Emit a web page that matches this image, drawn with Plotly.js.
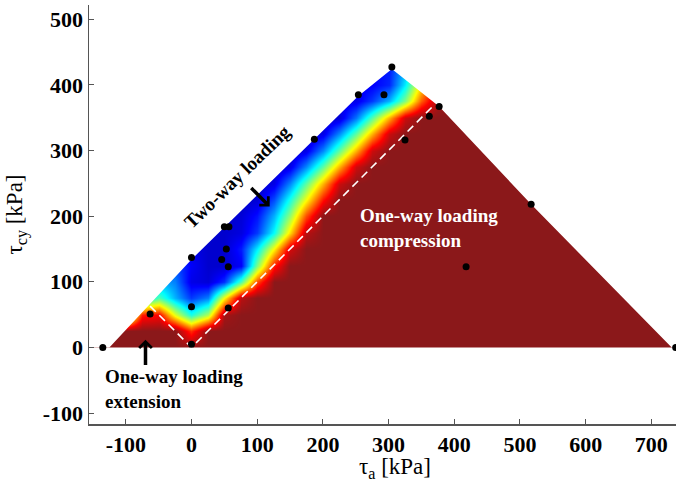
<!DOCTYPE html>
<html>
<head>
<meta charset="utf-8">
<script src="https://cdn.plot.ly/plotly-3.0.1.min.js"></script>
<style>html,body{margin:0;padding:0;background:#fff;}#chart{width:676px;height:482px;}</style>
</head>
<body>
<div id="chart"></div>
<script>
// ---- data ----
// grid of the colour field (tau_a, tau_cy in kPa) and its values (0 = two-way, 1 = one-way)
const gridX = [-150,-125,-100,-75,-50,-25,0,25,50,75,100,125,150,175,200,225,250,275,300,325,350,375,400,760];
const gridY = [0,25,50,75,100,125,150,175,200,225,250,275,300,325,350,375,400,425,450];
const fieldZ = [
 [1,1,1,1,1,1,1,1,1,1,1,1,1,1,1,1,1,1,1,1,1,1,1,1],
 [1,1,1,1,1,1,0.83,1,1,1,1,1,1,1,1,1,1,1,1,1,1,1,1,1],
 [0.4,0.4,0.4,0.85,0.88,0.6,0.4,0.55,0.97,1,1,1,1,1,1,1,1,1,1,1,1,1,1,1],
 [0.3,0.3,0.3,0.35,0.45,0.3,0.18,0.25,0.62,0.95,1,1,1,1,1,1,1,1,1,1,1,1,1,1],
 [0.3,0.3,0.3,0.3,0.3,0.25,0.1,0.08,0.17,0.45,0.8,1,1,1,1,1,1,1,1,1,1,1,1,1],
 [0.2,0.2,0.2,0.2,0.2,0.2,0.12,0.07,0.07,0.12,0.5,0.85,1,1,1,1,1,1,1,1,1,1,1,1],
 [0.1,0.1,0.1,0.1,0.1,0.1,0.1,0.07,0.07,0.15,0.36,0.63,0.92,1,1,1,1,1,1,1,1,1,1,1],
 [0.07,0.07,0.07,0.07,0.07,0.07,0.07,0.07,0.07,0.09,0.18,0.38,0.66,0.95,1,1,1,1,1,1,1,1,1,1],
 [0.07,0.07,0.07,0.07,0.07,0.07,0.07,0.07,0.07,0.08,0.14,0.3,0.52,0.8,1,1,1,1,1,1,1,1,1,1],
 [0.06,0.06,0.06,0.06,0.06,0.06,0.06,0.06,0.06,0.06,0.08,0.2,0.4,0.62,0.86,1,1,1,1,1,1,1,1,1],
 [0.06,0.06,0.06,0.06,0.06,0.06,0.06,0.06,0.06,0.06,0.06,0.1,0.26,0.47,0.7,0.93,1,1,1,1,1,1,1,1],
 [0.06,0.06,0.06,0.06,0.06,0.06,0.06,0.06,0.06,0.06,0.06,0.06,0.1,0.26,0.47,0.7,0.93,1,1,1,1,1,1,1],
 [0.06,0.06,0.06,0.06,0.06,0.06,0.06,0.06,0.06,0.06,0.06,0.06,0.06,0.1,0.26,0.47,0.7,0.93,1,1,1,1,1,1],
 [0.06,0.06,0.06,0.06,0.06,0.06,0.06,0.06,0.06,0.06,0.06,0.06,0.06,0.06,0.1,0.26,0.47,0.7,0.93,1,1,1,1,1],
 [0.06,0.06,0.06,0.06,0.06,0.06,0.06,0.06,0.06,0.06,0.06,0.06,0.06,0.06,0.06,0.08,0.24,0.46,0.7,0.93,1,1,1,1],
 [0.1,0.1,0.1,0.1,0.1,0.1,0.1,0.1,0.1,0.1,0.1,0.1,0.1,0.1,0.1,0.1,0.1,0.18,0.3,0.5,0.78,0.97,1,1],
 [0.1,0.1,0.1,0.1,0.1,0.1,0.1,0.1,0.1,0.1,0.1,0.1,0.1,0.1,0.1,0.1,0.1,0.12,0.16,0.36,0.65,0.9,1,1],
 [0.1,0.1,0.1,0.1,0.1,0.1,0.1,0.1,0.1,0.1,0.1,0.1,0.1,0.1,0.1,0.1,0.1,0.12,0.15,0.3,0.55,0.8,1,1],
 [0.15,0.15,0.15,0.15,0.15,0.15,0.15,0.15,0.15,0.15,0.15,0.15,0.15,0.15,0.15,0.15,0.15,0.15,0.15,0.3,0.5,0.75,1,1]
];
// outline of the coloured region (convex hull of the tests)
const hullX = [-125, 0, 187, 254, 305, 377, 517, 731];
const hullY = [0, 134, 317, 383, 424, 367, 218, 0];
// test points
const ptX = [-135, -63, 0, 0, 0, 46, 53, 56, 56, 50, 57, 187, 254, 293, 305, 377, 362, 325, 517, 418, 737];
const ptY = [0, 51, 137, 62, 5, 134, 150, 123, 60, 184, 184, 317, 385, 385, 427, 367, 352, 316, 218, 123, 0];
// dashed boundary |tau_cy| = |tau_a|
const dashX = [-63, 0, 366];
const dashY = [63, 0, 366];
// axis ticks
const xTicks = [-100, 0, 100, 200, 300, 400, 500, 600, 700];
const yTicks = [-100, 0, 100, 200, 300, 400, 500];

const serif = '"Liberation Serif", "Times New Roman", Times, serif';
const jet = [
  [0, 'rgb(0,0,143)'], [0.125, 'rgb(0,0,255)'], [0.375, 'rgb(0,255,255)'],
  [0.625, 'rgb(255,255,0)'], [0.875, 'rgb(255,0,0)'], [1, 'rgb(139,24,26)']
];

const xr = [-156, 737.5], yr = [-116.6, 521.6];
const farL = -400, farR = 1000, farT = 900, farB = -400;

const traces = [
  {type: 'heatmap', x: gridX, y: gridY, z: fieldZ, zmin: 0, zmax: 1,
   colorscale: jet, zsmooth: 'best', showscale: false, hoverinfo: 'skip'},
  // white outside the hull
  {type: 'scatter', mode: 'lines', fill: 'toself', fillcolor: 'white',
   line: {width: 0, color: 'white'}, hoverinfo: 'skip',
   x: [farL].concat(hullX, [farR, farR, farL]),
   y: [0].concat(hullY, [0, farT, farT])},
  {type: 'scatter', mode: 'lines', fill: 'toself', fillcolor: 'white',
   line: {width: 0, color: 'white'}, hoverinfo: 'skip',
   x: [farL, farR, farR, farL], y: [0, 0, farB, farB]},
  {type: 'scatter', mode: 'lines', x: dashX, y: dashY,
   line: {color: 'white', width: 1.6, dash: '8px,5px'}, hoverinfo: 'skip'},
  {type: 'scatter', mode: 'markers', x: ptX, y: ptY,
   marker: {color: 'black', size: 7}, cliponaxis: false}
];

const axisCommon = {
  showline: true, linecolor: '#555', linewidth: 1.5, mirror: false,
  ticks: 'inside', ticklen: 5, tickcolor: '#555', tickwidth: 1,
  showgrid: false, zeroline: false,
  tickfont: {family: serif, size: 22, color: 'black', weight: 'bold'}
};

const layout = {
  width: 676, height: 482,
  margin: {l: 89, r: 0, t: 5, b: 58},
  paper_bgcolor: 'white', plot_bgcolor: 'white', showlegend: false,
  xaxis: Object.assign({}, axisCommon, {
    range: xr, tickvals: xTicks, ticktext: xTicks.map(String)
  }),
  yaxis: Object.assign({}, axisCommon, {
    range: yr, tickvals: yTicks, ticktext: yTicks.map(String),
    title: {text: 'τ<sub>cy</sub> [kPa]', font: {family: serif, size: 23, color: 'black'}, standoff: 13}
  }),
  annotations: [
    {x: 0.522, y: -0.066, xref: 'paper', yref: 'paper', xanchor: 'center', yanchor: 'top',
     text: 'τ<sub>a</sub> [kPa]', showarrow: false, font: {family: serif, size: 23, color: 'black'}},
    {x: 70, y: 260, xref: 'x', yref: 'y', text: 'Two-way loading', showarrow: false,
     textangle: -44, font: {family: serif, size: 19, color: 'black', weight: 'bold'}},
    {x: 119, y: 214.6, ax: 88.7, ay: 245, xref: 'x', yref: 'y', axref: 'x', ayref: 'y',
     text: '', showarrow: true, arrowhead: 4, arrowsize: 0.7, arrowwidth: 3.5, arrowcolor: 'black', standoff: 0},
    {x: 253, y: 182, xref: 'x', yref: 'y', text: 'One-way loading<br>compression', showarrow: false,
     xanchor: 'left', align: 'left', font: {family: serif, size: 19, color: 'white', weight: 'bold'}},
    {x: -135, y: -63, xref: 'x', yref: 'y', text: 'One-way loading<br>extension', showarrow: false,
     xanchor: 'left', align: 'left', font: {family: serif, size: 19, color: 'black', weight: 'bold'}},
    {x: -70, y: 11.7, ax: -70, ay: -29, xref: 'x', yref: 'y', axref: 'x', ayref: 'y',
     text: '', showarrow: true, arrowhead: 4, arrowsize: 0.7, arrowwidth: 3.5, arrowcolor: 'black', standoff: 0}
  ]
};

Plotly.newPlot('chart', traces, layout, {staticPlot: true, displayModeBar: false});
</script>
</body>
</html>
